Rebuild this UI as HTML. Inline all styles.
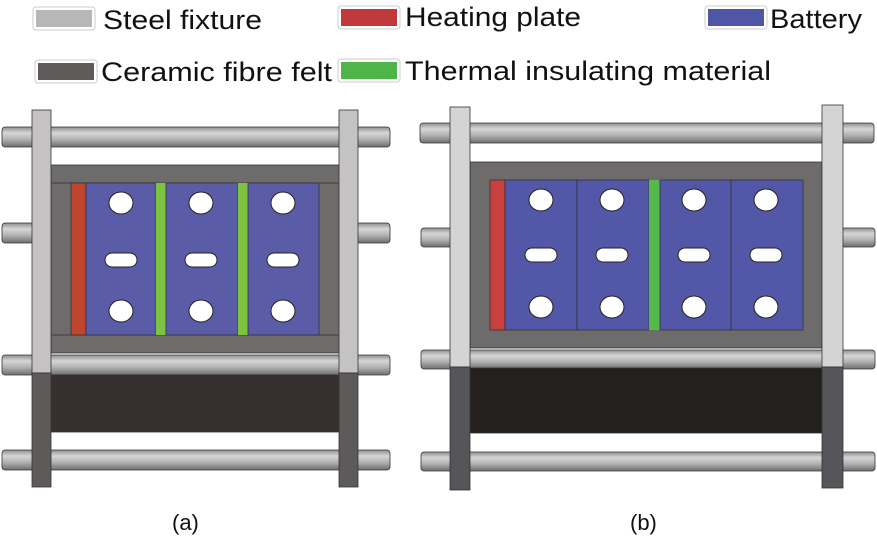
<!DOCTYPE html>
<html><head><meta charset="utf-8"><style>
html,body{margin:0;padding:0;background:#fff;}
body{width:877px;height:539px;overflow:hidden;position:relative;font-family:"Liberation Sans",Arial,sans-serif;}
</style></head><body>
<svg width="877" height="539" viewBox="0 0 877 539" xmlns="http://www.w3.org/2000/svg" style="position:absolute;left:0;top:0">
<defs>
<linearGradient id="rod" x1="0" y1="0" x2="0" y2="1">
<stop offset="0" stop-color="#8e8e8e"/><stop offset="0.3" stop-color="#d6d6d6"/><stop offset="0.6" stop-color="#b4b4b4"/><stop offset="1" stop-color="#6e6e6e"/>
</linearGradient>
</defs>
<g font-family="Liberation Sans, Arial, sans-serif" font-size="27" fill="#111">
<rect x="33" y="7" width="62" height="23" rx="3" fill="#fff" stroke="#ccc"/><rect x="36" y="10" width="56" height="17" fill="#b8b6b6"/>
<text x="103" y="29" textLength="159" lengthAdjust="spacingAndGlyphs">Steel fixture</text>
<rect x="338" y="6" width="62" height="23" rx="3" fill="#fff" stroke="#ccc"/><rect x="341" y="9" width="56" height="17" fill="#c0393b"/>
<text x="405" y="26" textLength="176" lengthAdjust="spacingAndGlyphs">Heating plate</text>
<rect x="705" y="6" width="62" height="23" rx="3" fill="#fff" stroke="#ccc"/><rect x="708" y="9" width="56" height="17" fill="#5055a6"/>
<text x="770" y="28" textLength="92" lengthAdjust="spacingAndGlyphs">Battery</text>
<rect x="35" y="60" width="62" height="23" rx="3" fill="#fff" stroke="#ccc"/><rect x="38" y="63" width="56" height="17" fill="#5f5b5b"/>
<text x="101" y="81" textLength="231" lengthAdjust="spacingAndGlyphs">Ceramic fibre felt</text>
<rect x="338" y="59" width="62" height="23" rx="3" fill="#fff" stroke="#ccc"/><rect x="341" y="62" width="56" height="17" fill="#4fb548"/>
<text x="405" y="80" textLength="366" lengthAdjust="spacingAndGlyphs">Thermal insulating material</text>
<text x="172" y="530" font-size="22">(a)</text>
<text x="630" y="530" font-size="22">(b)</text>
</g>

<!-- (a) -->
<g stroke="#333" stroke-width="0.8">
<rect x="2" y="127" width="388" height="20" rx="3" fill="url(#rod)"/>
<rect x="2" y="223" width="32" height="20" rx="3" fill="url(#rod)"/>
<rect x="356" y="223" width="34" height="20" rx="3" fill="url(#rod)"/>
<rect x="51" y="165" width="288" height="188" fill="#6e6b6b"/>
<rect x="51" y="183" width="288" height="152" fill="#6e6b6b"/>
<rect x="71" y="183" width="15" height="152" fill="#c0452d"/>
<rect x="86" y="183" width="70" height="152" fill="#5a5ca8"/>
<rect x="156" y="183" width="10" height="152" fill="#7ec241" stroke="none"/>
<rect x="166" y="183" width="72" height="152" fill="#5a5ca8"/>
<rect x="238" y="183" width="10" height="152" fill="#7ec241" stroke="none"/>
<rect x="248" y="183" width="71" height="152" fill="#5a5ca8"/>
<rect x="2" y="355" width="388" height="20" rx="3" fill="url(#rod)"/>
<rect x="51" y="375" width="288" height="57" fill="#352f2f"/>
<rect x="2" y="450" width="388" height="20" rx="3" fill="url(#rod)"/>
<rect x="32" y="110" width="19" height="263" fill="#c4c2c2"/>
<rect x="32" y="373" width="19" height="114" fill="#5e5a5a"/>
<rect x="339" y="110" width="19" height="263" fill="#c4c2c2"/>
<rect x="339" y="373" width="19" height="114" fill="#5e5a5a"/>
</g>
<g fill="#fff" stroke="#222" stroke-width="1">
<ellipse cx="121" cy="203" rx="12" ry="11"/><ellipse cx="201" cy="203" rx="12" ry="11"/><ellipse cx="283" cy="203" rx="12" ry="11"/>
<rect x="105" y="253" width="32" height="14" rx="7"/><rect x="185" y="253" width="32" height="14" rx="7"/><rect x="267" y="253" width="32" height="14" rx="7"/>
<ellipse cx="121" cy="311" rx="12" ry="11"/><ellipse cx="201" cy="311" rx="12" ry="11"/><ellipse cx="283" cy="311" rx="12" ry="11"/>
</g>

<!-- (b) -->
<g stroke="#333" stroke-width="0.8">
<rect x="420" y="123" width="454" height="20" rx="3" fill="url(#rod)"/>
<rect x="421" y="228" width="31" height="19" rx="3" fill="url(#rod)"/>
<rect x="841" y="228" width="34" height="19" rx="3" fill="url(#rod)"/>
<rect x="470" y="162" width="352" height="186" fill="#6e6b6b"/>
<rect x="490" y="180" width="15" height="150" fill="#c94040"/>
<rect x="505" y="180" width="72" height="150" fill="#5257a8"/>
<rect x="577" y="180" width="72" height="150" fill="#5257a8"/>
<rect x="649" y="180" width="11" height="150" fill="#55b84a" stroke="none"/>
<rect x="660" y="180" width="71" height="150" fill="#5257a8"/>
<rect x="731" y="180" width="72" height="150" fill="#5257a8"/>
<rect x="421" y="350" width="454" height="19" rx="3" fill="url(#rod)"/>
<rect x="470" y="368" width="352" height="65" fill="#24201f"/>
<rect x="421" y="452" width="454" height="19" rx="3" fill="url(#rod)"/>
<rect x="450" y="107" width="20" height="260" fill="#d4d4d4"/>
<rect x="450" y="367" width="20" height="123" fill="#55555a"/>
<rect x="822" y="105" width="21" height="262" fill="#d4d4d4"/>
<rect x="822" y="367" width="21" height="121" fill="#55555a"/>
</g>
<g fill="#fff" stroke="#222" stroke-width="1">
<ellipse cx="541" cy="200" rx="12" ry="11"/><ellipse cx="612" cy="200" rx="12" ry="11"/><ellipse cx="694" cy="200" rx="12" ry="11"/><ellipse cx="766" cy="200" rx="12" ry="11"/>
<rect x="525" y="248" width="32" height="14" rx="7"/><rect x="596" y="248" width="32" height="14" rx="7"/><rect x="678" y="248" width="32" height="14" rx="7"/><rect x="750" y="248" width="32" height="14" rx="7"/>
<ellipse cx="541" cy="307" rx="12" ry="11"/><ellipse cx="612" cy="307" rx="12" ry="11"/><ellipse cx="694" cy="307" rx="12" ry="11"/><ellipse cx="766" cy="307" rx="12" ry="11"/>
</g>
</svg>
</body></html>
